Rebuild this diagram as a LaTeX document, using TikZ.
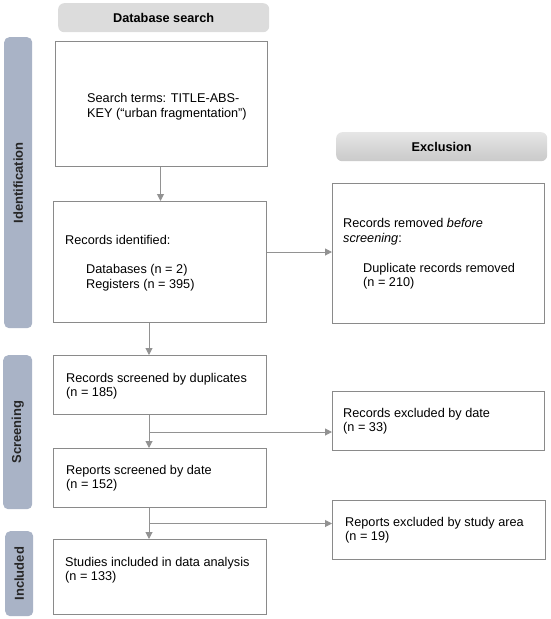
\documentclass[tikz,border=0pt]{standalone}
\usepackage{fontspec}
\setmainfont{Liberation Sans}
\usetikzlibrary{arrows.meta}
\definecolor{boxline}{HTML}{8A8A8A}
\definecolor{arrowc}{HTML}{929292}
\definecolor{sidebar}{HTML}{A9B3C6}
\definecolor{headfill}{HTML}{DCDCDC}
\definecolor{sidetext}{HTML}{262626}
\tikzset{
  flowbox/.style={draw=boxline, line width=1.4pt, fill=white, anchor=north west, inner sep=0pt},
  txt/.style={anchor=base west, align=left, inner sep=0pt, font=\fontsize{12.7}{14.5}\selectfont},
  arr/.style={draw=arrowc, line width=1pt, -{Triangle[length=7pt,width=7pt]}},
  sidebox/.style={fill=sidebar, rounded corners=5pt, anchor=north west, inner sep=0pt},
  sidetxt/.style={rotate=90, inner sep=0pt, font=\fontsize{13}{15}\selectfont\bfseries, text=sidetext},
  headbox/.style={rounded corners=6pt, anchor=north west, inner sep=0pt, font=\fontsize{12.7}{15}\selectfont\bfseries}
}
\begin{document}
\begin{tikzpicture}[x=1pt,y=-1pt]
\useasboundingbox (0,0) rectangle (550,619);
% side bars
\node[sidebox, minimum width=28pt, minimum height=291pt] (sid) at (4,37) {};
\node[sidetxt] (sidl) at (sid.center) {Identification};
\node[sidebox, minimum width=29pt, minimum height=154pt] (sscr) at (3,355) {};
\node[sidetxt] (sscrl) at (sscr.center) {Screening};
\node[sidebox, minimum width=28pt, minimum height=85pt] (sinc) at (5,531) {};
\node[sidetxt] (sincl) at (sinc.center) {Included};
% headers
\node[headbox, fill=headfill, minimum width=211pt, minimum height=29pt] (hdb) at (58,3) {Database search};
\node[headbox, top color=gray!20, bottom color=gray!42, minimum width=211pt, minimum height=29pt] (hex) at (336,132) {Exclusion};
% boxes
\node[flowbox, minimum width=212pt, minimum height=125pt] (b1) at (55,41) {};
\node[txt] (t1) at (87,117) {Search terms: TITLE-ABS-\\KEY (“urban fragmentation”)};
\node[flowbox, minimum width=213pt, minimum height=121pt] (b2) at (53,201) {};
\node[txt] (t2a) at (65,244) {Records identified:};
\node[txt] (t2b) at (86,288) {Databases (n = 2)\\Registers (n = 395)};
\node[flowbox, minimum width=212pt, minimum height=140pt] (b3) at (332,183) {};
\node[txt] (t3a) at (343,242) {Records removed \emph{before}\\\emph{screening}:};
\node[txt] (t3b) at (363,286.5) {Duplicate records removed\\(n = 210)};
\node[flowbox, minimum width=213pt, minimum height=59pt] (b4) at (53,355) {};
\node[txt] (t4) at (66,396.5) {Records screened by duplicates\\(n = 185)};
\node[flowbox, minimum width=212pt, minimum height=59pt] (b5) at (332,391) {};
\node[txt] (t5) at (343,431.5) {Records excluded by date\\(n = 33)};
\node[flowbox, minimum width=213pt, minimum height=59pt] (b6) at (53,448) {};
\node[txt] (t6) at (66,488.5) {Reports screened by date\\(n = 152)};
\node[flowbox, minimum width=213pt, minimum height=59pt] (b7) at (332,500) {};
\node[txt] (t7) at (345,540.5) {Reports excluded by study area\\(n = 19)};
\node[flowbox, minimum width=213pt, minimum height=75pt] (b8) at (53,539) {};
\node[txt] (t8) at (65,580.5) {Studies included in data analysis\\(n = 133)};
% connectors
\coordinate (c1) at (160.5,0);
\draw[arr] (b1.south -| c1) -- (b2.north -| c1);
\coordinate (c2) at (149,252);
\draw[arr] (b2.east |- c2) -- (b3.west |- c2);
\draw[arr] (b2.south -| c2) -- (b4.north -| c2);
\draw[arr] (b4.south -| c2) -- (b6.north -| c2);
\coordinate (j1) at (149,432);
\draw[arr] (j1) -- (j1 -| b5.west);
\draw[arr] (b6.south -| c2) -- (b8.north -| c2);
\coordinate (j2) at (149,523.5);
\draw[arr] (j2) -- (j2 -| b7.west);
\end{tikzpicture}
\end{document}
